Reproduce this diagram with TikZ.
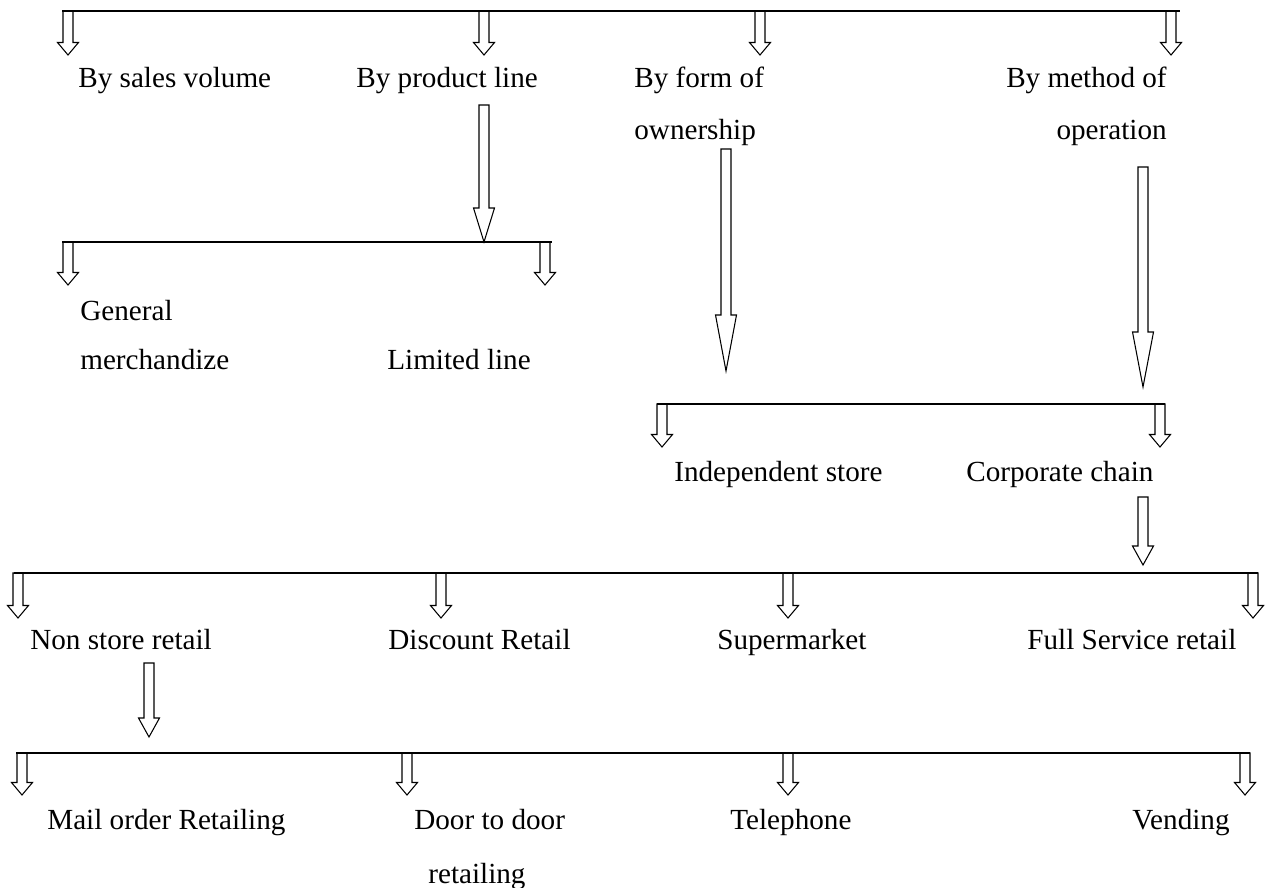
\documentclass[tikz,border=0pt]{standalone}
\usepackage{fontspec}
\setmainfont{Liberation Serif}
\usetikzlibrary{positioning,calc}

\begin{document}
\begin{tikzpicture}[x=0.02cm, y=-0.02cm]

  % Styles
  \tikzset{
    bar/.style={line width=1.1pt},
    hollow/.style={line width=0.6pt, line join=miter, to path={
        let \p1=(\tikztostart), \p2=(\tikztotarget) in
        (\x1-0.1cm,\y1) -- (\x1-0.1cm,\y2+#1) -- (\x1-0.21cm,\y2+#1) -- (\x1,\y2)
        -- (\x1+0.21cm,\y2+#1) -- (\x1+0.1cm,\y2+#1) -- (\x1+0.1cm,\y1) -- cycle
      }},
    hollow/.default=0.25cm,
    lbl/.style={anchor=base west, inner sep=0pt, font=\fontsize{16.6}{20}\selectfont}
  }

  \useasboundingbox (0,0) rectangle (1267,888);

  % First level: kinds of classification
  \coordinate (b1l) at (62,11);
  \coordinate (b1r) at (1180,11);
  \draw[bar] (b1l) -- (b1r);

  \node[lbl] (sales) at (78,88) {By sales volume};
  \node[lbl] (prod) at (356,88) {By product line};
  \node[lbl] (form) at (634,88) {By form of};
  \node[lbl] (formb) at (634,140) {ownership};
  \node[lbl, anchor=base east] (meth) at (1167,88) {By method of};
  \node[lbl, anchor=base east] (methb) at (1167,140) {operation};

  \foreach \x/\k in {68/a, 484/b, 760/c, 1171/d} {
    \coordinate (b1\k) at (\x,11);
    \coordinate (t1\k) at (\x,55);
    \draw[hollow] (b1\k) to (t1\k);
  }

  % By product line
  \coordinate (p1) at (484,105);
  \coordinate (p2) at (484,242);
  \draw[hollow=0.68cm] (p1) to (p2);

  \coordinate (b2l) at (62,242);
  \coordinate (b2r) at (552,242);
  \draw[bar] (b2l) -- (b2r);
  \foreach \x/\k in {68/a, 545/b} {
    \coordinate (b2\k) at (\x,242);
    \coordinate (t2\k) at (\x,285);
    \draw[hollow] (b2\k) to (t2\k);
  }
  \node[lbl] (gen) at (80,320) {General};
  \node[lbl] (genb) at (80,369) {merchandize};
  \node[lbl] (lim) at (387,369) {Limited line};

  % By form of ownership / method of operation
  \coordinate (f1) at (726,149);
  \coordinate (f2) at (726,371);
  \draw[hollow=1.12cm] (f1) to (f2);
  \coordinate (m1) at (1143,167);
  \coordinate (m2) at (1143,387);
  \draw[hollow=1.1cm] (m1) to (m2);

  \coordinate (b3l) at (657,404);
  \coordinate (b3r) at (1165,404);
  \draw[bar] (b3l) -- (b3r);
  \foreach \x/\k in {662/a, 1160/b} {
    \coordinate (b3\k) at (\x,404);
    \coordinate (t3\k) at (\x,447);
    \draw[hollow] (b3\k) to (t3\k);
  }
  \node[lbl] (indep) at (674,481) {Independent store};
  \node[lbl] (corp) at (966,481) {Corporate chain};

  % Corporate chain
  \coordinate (c1) at (1143,497);
  \coordinate (c2) at (1143,565);
  \draw[hollow=0.38cm] (c1) to (c2);

  \coordinate (b4l) at (14,573);
  \coordinate (b4r) at (1258,573);
  \draw[bar] (b4l) -- (b4r);
  \foreach \x/\k in {18/a, 441/b, 788/c, 1253/d} {
    \coordinate (b4\k) at (\x,573);
    \coordinate (t4\k) at (\x,618);
    \draw[hollow] (b4\k) to (t4\k);
  }
  \node[lbl] (nonst) at (30,649) {Non store retail};
  \node[lbl] (disc) at (388,649) {Discount Retail};
  \node[lbl] (super) at (717,649) {Supermarket};
  \node[lbl] (full) at (1027,649) {Full Service retail};

  % Non store retail
  \coordinate (n1) at (149,663);
  \coordinate (n2) at (149,737);
  \draw[hollow=0.38cm] (n1) to (n2);

  \coordinate (b5l) at (16,753);
  \coordinate (b5r) at (1250,753);
  \draw[bar] (b5l) -- (b5r);
  \foreach \x/\k in {22/a, 407/b, 788/c, 1245/d} {
    \coordinate (b5\k) at (\x,753);
    \coordinate (t5\k) at (\x,795);
    \draw[hollow] (b5\k) to (t5\k);
  }
  \node[lbl] (mail) at (47,829) {Mail order Retailing};
  \node[lbl] (door) at (414,829) {Door to door};
  \node[lbl] (doorb) at (428,883) {retailing};
  \node[lbl] (tele) at (730,829) {Telephone};
  \node[lbl] (vend) at (1132,829) {Vending};

\end{tikzpicture}
\end{document}
